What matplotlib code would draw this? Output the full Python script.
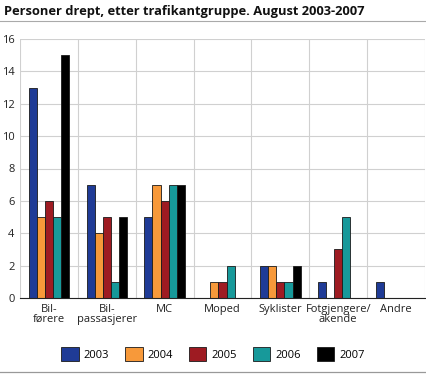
import matplotlib
matplotlib.use("Agg")
import matplotlib.pyplot as plt
import numpy as np
from matplotlib.patches import Patch
from matplotlib.lines import Line2D

categories = ["Bil-\nførere", "Bil-\npassasjerer", "MC", "Moped", "Syklister", "Fotgjengere/\nakende", "Andre"]
years = ["2003", "2004", "2005", "2006", "2007"]
v2003 = [13, 7, 5, 0, 2, 1, 1]
v2004 = [5, 4, 7, 1, 2, 0, 0]
v2005 = [6, 5, 6, 1, 1, 3, 0]
v2006 = [5, 1, 7, 2, 1, 5, 0]
v2007 = [15, 5, 7, 0, 2, 0, 0]
series = [v2003, v2004, v2005, v2006, v2007]
colors = ["#1f3b96", "#f7993a", "#9e1b22", "#17999a", "#000000"]

plt.rcParams['font.family'] = ['Open Sans', 'DejaVu Sans']

fig = plt.figure(figsize=(4.26, 3.74), dpi=100)
ax = fig.add_axes([20/426, 1-298/374, 405/426, (298-39)/374])

n = len(categories)
x = np.arange(n)
w = 0.14
for i, (vals, c) in enumerate(zip(series, colors)):
    xs = x + (i - 2) * w
    vv = np.array(vals, dtype=float)
    mask = vv > 0
    ax.bar(xs[mask], vv[mask], width=w, color=c, edgecolor="#1a1a1a", linewidth=0.6, zorder=3)

ax.set_xlim(-0.5, n - 0.5)
ax.set_ylim(0, 16)
ax.set_yticks(range(0, 17, 2))
ax.set_xticks(x)
ax.set_xticklabels(categories, fontsize=8, color="#222222", linespacing=0.95)
ax.tick_params(axis='y', labelsize=8, colors="#222222", length=0, pad=4)
ax.tick_params(axis='x', length=0, pad=4)
ax.grid(axis='y', color="#d0d0d0", linewidth=0.8, zorder=0)
for b in np.arange(-0.5, n + 0.5, 1):
    ax.axvline(b, color="#d0d0d0", linewidth=0.8, zorder=0)
for s in ["top", "right", "left"]:
    ax.spines[s].set_visible(False)
ax.spines["bottom"].set_color("#222222")
ax.spines["bottom"].set_linewidth(0.8)
ax.spines["bottom"].set_zorder(4)

fig.text(4/426, 1-12/374, "Personer drept, etter trafikantgruppe. August 2003-2007",
         fontsize=9.3, fontweight="bold", va="center", ha="left", color="#111111")
fig.add_artist(Line2D([0, 1], [1-21/374, 1-21/374], color="#aaaaaa", linewidth=0.8))
fig.add_artist(Line2D([0, 1], [1-372/374, 1-372/374], color="#999999", linewidth=0.9))

handles = [Patch(facecolor=c, edgecolor="#1a1a1a", linewidth=0.6) for c in colors]
fig.legend(handles, years, loc="center", bbox_to_anchor=(213/426, 1-354/374), ncol=5,
           frameon=False, fontsize=8, handlelength=1.55, handleheight=1.45,
           columnspacing=1.45, handletextpad=0.45)

fig.savefig("out.png", dpi=100)
